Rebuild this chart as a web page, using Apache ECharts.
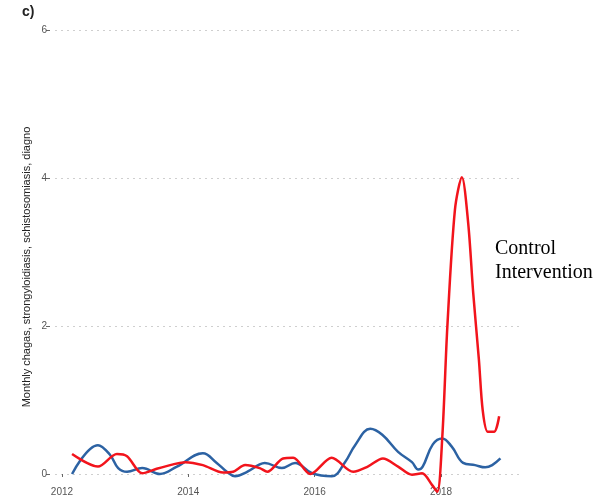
<!DOCTYPE html>
<html>
<head>
<meta charset="utf-8">
<script src="https://cdn.jsdelivr.net/npm/echarts@6/dist/echarts.min.js"></script>
<style>
  html, body { margin: 0; padding: 0; background: #ffffff; }
  #chart { width: 598px; height: 500px; }
</style>
</head>
<body>
<div id="chart"></div>
<script>
// Monthly diagnoses (chagas, strongyloidiasis, schistosomiasis), smoothed trend
// Time is expressed in decimal years.
const controlYears = [2012.16, 2012.57, 2012.76, 2012.89, 2013.03, 2013.27, 2013.55, 2013.82,
  2014.23, 2014.45, 2014.61, 2014.74, 2014.93, 2015.13, 2015.21, 2015.48, 2015.69, 2015.96,
  2016.27, 2016.48, 2016.64, 2016.88, 2017.07, 2017.32, 2017.54, 2017.64, 2017.71, 2017.87,
  2018.02, 2018.17, 2018.35, 2018.54, 2018.70, 2018.81, 2018.94];
const controlValues = [0.00, 0.39, 0.26, 0.08, 0.03, 0.08, 0.00, 0.10,
  0.28, 0.15, 0.03, -0.03, 0.03, 0.13, 0.15, 0.08, 0.15, 0.01,
  -0.03, 0.16, 0.39, 0.61, 0.53, 0.30, 0.16, 0.06, 0.10, 0.40,
  0.48, 0.37, 0.15, 0.12, 0.09, 0.12, 0.21];

const interventionYears = [2012.16, 2012.57, 2012.87, 2013.03, 2013.27, 2013.50, 2013.76, 2013.95,
  2014.23, 2014.55, 2014.71, 2014.90, 2015.13, 2015.25, 2015.50, 2015.66, 2015.93,
  2016.27, 2016.61, 2016.84, 2017.08, 2017.32, 2017.54, 2017.70, 2017.86, 2017.94,
  2018.02, 2018.10, 2018.22, 2018.33, 2018.43, 2018.51, 2018.60, 2018.66, 2018.74,
  2018.84, 2018.92];
const interventionValues = [0.27, 0.10, 0.27, 0.24, 0.01, 0.07, 0.13, 0.16,
  0.12, 0.02, 0.03, 0.12, 0.08, 0.03, 0.21, 0.22, 0.00,
  0.22, 0.03, 0.10, 0.21, 0.10, -0.01, 0.01, -0.15, -0.24,
  0.50, 1.99, 3.57, 4.01, 3.39, 2.44, 1.54, 0.86, 0.57,
  0.57, 0.78];

const yearTicks = [2012, 2014, 2016, 2018];
const yTickLabels = ['0', '2', '4', '6'];
const yTitle = 'Monthly chagas, strongyloidiasis, schistosomiasis, diagno';

const pairs = (xs, ys) => xs.map((x, i) => [x, ys[i]]);

const chart = echarts.init(document.getElementById('chart'), null, { renderer: 'canvas' });

chart.setOption({
  animation: false,
  backgroundColor: '#ffffff',
  grid: { left: 55, right: 78, top: 30, bottom: 26, containLabel: false },
  legend: {
    data: ['Control', 'Intervention'],
    orient: 'vertical',
    left: 485,
    top: 234,
    icon: 'none',
    itemWidth: 0,
    itemHeight: 0,
    itemGap: 4,
    selectedMode: false,
    textStyle: {
      fontFamily: 'Liberation Serif',
      fontSize: 20,
      color: '#000000'
    }
  },
  xAxis: {
    type: 'value',
    min: 2011.89,
    max: 2019.25,
    offset: 10,
    axisLine: { show: false },
    axisTick: {
      show: true,
      customValues: yearTicks,
      length: 3,
      lineStyle: { color: '#666666', width: 1 }
    },
    axisLabel: {
      customValues: yearTicks,
      margin: 3,
      color: '#555555',
      fontFamily: 'Liberation Sans',
      fontSize: 10,
      formatter: v => String(v)
    },
    splitLine: { show: false }
  },
  yAxis: {
    type: 'value',
    min: 0,
    max: 6,
    interval: 2,
    offset: 5,
    axisLine: { show: false },
    axisTick: { show: true, length: 4, lineStyle: { color: '#666666', width: 1 } },
    axisLabel: {
      margin: 3,
      color: '#555555',
      fontFamily: 'Liberation Sans',
      fontSize: 10,
      formatter: v => yTickLabels[Math.round(v / 2)]
    },
    splitLine: {
      show: true,
      lineStyle: { color: '#cfcfcf', width: 1, type: [2, 4] }
    }
  },
  graphic: [
    {
      type: 'text',
      left: 22,
      top: 5,
      style: {
        text: 'c)',
        fontFamily: 'Liberation Sans',
        fontWeight: 'bold',
        fontSize: 14,
        fill: '#222222'
      }
    },
    {
      type: 'text',
      x: 27,
      y: 267,
      rotation: Math.PI / 2,
      style: {
        text: yTitle,
        fontFamily: 'Liberation Sans',
        fontSize: 11,
        fill: '#222222',
        align: 'center',
        verticalAlign: 'middle'
      }
    }
  ],
  series: [
    {
      name: 'Control',
      type: 'line',
      data: pairs(controlYears, controlValues),
      smooth: 0.4,
      showSymbol: false,
      clip: false,
      lineStyle: { color: '#2c62a3', width: 2.5 },
      itemStyle: { color: '#2c62a3' }
    },
    {
      name: 'Intervention',
      type: 'line',
      data: pairs(interventionYears, interventionValues),
      smooth: 0.3,
      showSymbol: false,
      clip: false,
      lineStyle: { color: '#f2141c', width: 2.5 },
      itemStyle: { color: '#f2141c' }
    }
  ]
});
</script>
</body>
</html>
